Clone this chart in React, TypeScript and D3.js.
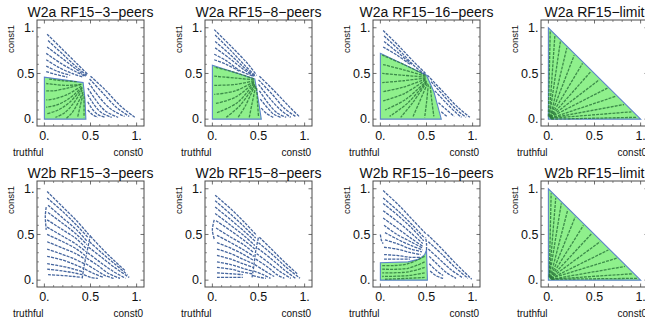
import React from "react";
import * as d3 from "d3";

type Pt = [number, number];

const titles = [
  "W2a RF15−3−peers",
  "W2a RF15−8−peers",
  "W2a RF15−16−peers",
  "W2a RF15−limit",
  "W2b RF15−3−peers",
  "W2b RF15−8−peers",
  "W2b RF15−16−peers",
  "W2b RF15−limit",
];

const tickValues = [0, 0.5, 1];
const tickLabels = ["0.", "0.5", "1."];
const minorTickValues = [0.1, 0.2, 0.3, 0.4, 0.6, 0.7, 0.8, 0.9];
const xAxisLeftLabel = "truthful";
const xAxisRightLabel = "const0";
const yAxisLabel = "const1";

// ---- W2a 3 peers ----
const w2a3Region: Pt[] = [[0, 0], [0, 0.46], [0.42, 0.4], [0.44, 0.22], [0.45, 0]];
const w2a3Outer: Pt[][] = [
  [[0.03, 0.93], [0.2, 0.76], [0.36, 0.6], [0.47, 0.49]],
  [[0.04, 0.86], [0.2, 0.71], [0.35, 0.57], [0.46, 0.48]],
  [[0.03, 0.79], [0.2, 0.66], [0.34, 0.55], [0.45, 0.47]],
  [[0.02, 0.72], [0.18, 0.61], [0.32, 0.53], [0.44, 0.47]],
  [[0.02, 0.65], [0.15, 0.57], [0.3, 0.5], [0.42, 0.46]],
  [[0.02, 0.58], [0.15, 0.52], [0.28, 0.48]],
  [[0.02, 0.52], [0.12, 0.49], [0.25, 0.46]],
  [[0.5, 0.47], [0.65, 0.33], [0.82, 0.15], [0.98, 0.02]],
  [[0.49, 0.44], [0.62, 0.3], [0.78, 0.13], [0.92, 0.03]],
  [[0.48, 0.4], [0.58, 0.26], [0.72, 0.11], [0.87, 0.03]],
  [[0.47, 0.34], [0.55, 0.22], [0.66, 0.09], [0.8, 0.02]],
  [[0.47, 0.27], [0.53, 0.17], [0.62, 0.07], [0.73, 0.02]],
  [[0.47, 0.19], [0.52, 0.11], [0.58, 0.05], [0.66, 0.02]],
  [[0.47, 0.1], [0.52, 0.05], [0.58, 0.02]],
];
const w2a3Inner: Pt[][] = [
  [[0.35, 0.41], [0.2, 0.42], [0.04, 0.44]],
  [[0.4, 0.38], [0.25, 0.37], [0.1, 0.38], [0.02, 0.39]],
  [[0.4, 0.38], [0.25, 0.34], [0.1, 0.31], [0.02, 0.31]],
  [[0.4, 0.36], [0.25, 0.27], [0.1, 0.22], [0.02, 0.21]],
  [[0.41, 0.35], [0.26, 0.22], [0.12, 0.15], [0.02, 0.13]],
  [[0.41, 0.34], [0.28, 0.19], [0.15, 0.1], [0.03, 0.06]],
  [[0.41, 0.32], [0.32, 0.18], [0.22, 0.07], [0.12, 0.02]],
  [[0.42, 0.3], [0.36, 0.17], [0.3, 0.07], [0.24, 0.01]],
  [[0.42, 0.28], [0.39, 0.15], [0.36, 0.02]],
  [[0.43, 0.25], [0.43, 0.12], [0.43, 0.02]],
];

// ---- W2a 8 peers ----
const w2a8Region: Pt[] = [[0, 0], [0, 0.59], [0.46, 0.44], [0.5, 0.2], [0.53, 0]];
const w2a8Outer: Pt[][] = [
  [[0.02, 0.98], [0.2, 0.8], [0.38, 0.61], [0.48, 0.48]],
  [[0.03, 0.92], [0.2, 0.75], [0.36, 0.58], [0.47, 0.47]],
  [[0.03, 0.85], [0.2, 0.7], [0.35, 0.56], [0.46, 0.47]],
  [[0.03, 0.78], [0.18, 0.67], [0.33, 0.55], [0.45, 0.47]],
  [[0.02, 0.71], [0.15, 0.64], [0.3, 0.53], [0.44, 0.47]],
  [[0.02, 0.65], [0.15, 0.6], [0.3, 0.52]],
  [[0.51, 0.47], [0.68, 0.3], [0.83, 0.14], [0.95, 0.02]],
  [[0.5, 0.43], [0.65, 0.27], [0.78, 0.12], [0.9, 0.03]],
  [[0.5, 0.38], [0.62, 0.23], [0.74, 0.1], [0.85, 0.02]],
  [[0.51, 0.31], [0.6, 0.18], [0.7, 0.07], [0.8, 0.02]],
  [[0.52, 0.22], [0.6, 0.12], [0.67, 0.05], [0.74, 0.02]],
  [[0.53, 0.12], [0.59, 0.06], [0.66, 0.02]],
];
const w2a8Inner: Pt[][] = [
  [[0.45, 0.44], [0.25, 0.51], [0.02, 0.57]],
  [[0.45, 0.43], [0.25, 0.45], [0.02, 0.47]],
  [[0.45, 0.42], [0.25, 0.38], [0.02, 0.37]],
  [[0.45, 0.41], [0.25, 0.31], [0.02, 0.27]],
  [[0.45, 0.4], [0.25, 0.24], [0.03, 0.17]],
  [[0.45, 0.39], [0.27, 0.18], [0.05, 0.07]],
  [[0.46, 0.38], [0.3, 0.15], [0.15, 0.02]],
  [[0.46, 0.37], [0.36, 0.15], [0.28, 0.02]],
  [[0.47, 0.36], [0.43, 0.17], [0.4, 0.02]],
  [[0.48, 0.34], [0.49, 0.17], [0.5, 0.03]],
];

// ---- W2a 16 peers ----
const w2a16Region: Pt[] = [[0, 0], [0, 0.72], [0.5, 0.48], [0.58, 0.3], [0.62, 0.15], [0.66, 0]];
const w2a16Outer: Pt[][] = [
  [[0.03, 0.97], [0.2, 0.8], [0.36, 0.63], [0.49, 0.5]],
  [[0.04, 0.91], [0.2, 0.76], [0.35, 0.6], [0.48, 0.49]],
  [[0.04, 0.85], [0.2, 0.72], [0.34, 0.6]],
  [[0.03, 0.79], [0.18, 0.7], [0.32, 0.6]],
  [[0.51, 0.48], [0.68, 0.3], [0.84, 0.13], [0.97, 0.02]],
  [[0.55, 0.41], [0.7, 0.24], [0.83, 0.1], [0.93, 0.02]],
  [[0.59, 0.31], [0.72, 0.17], [0.82, 0.07], [0.88, 0.02]],
  [[0.63, 0.18], [0.72, 0.1], [0.8, 0.03]],
  [[0.66, 0.08], [0.72, 0.03]],
];
const w2a16Inner: Pt[][] = [
  [[0.49, 0.48], [0.25, 0.6], [0.02, 0.7]],
  [[0.49, 0.47], [0.25, 0.54], [0.02, 0.6]],
  [[0.49, 0.46], [0.25, 0.48], [0.02, 0.5]],
  [[0.49, 0.45], [0.25, 0.42], [0.02, 0.4]],
  [[0.49, 0.44], [0.25, 0.35], [0.02, 0.3]],
  [[0.49, 0.43], [0.26, 0.28], [0.03, 0.2]],
  [[0.5, 0.42], [0.28, 0.22], [0.05, 0.1]],
  [[0.5, 0.41], [0.3, 0.18], [0.1, 0.03]],
  [[0.5, 0.4], [0.35, 0.18], [0.22, 0.02]],
  [[0.51, 0.39], [0.42, 0.18], [0.35, 0.02]],
  [[0.52, 0.38], [0.5, 0.18], [0.48, 0.02]],
  [[0.54, 0.36], [0.56, 0.18], [0.58, 0.03]],
];

// ---- W2a limit ----
const w2aLimitRegion: Pt[] = [[0, 0], [0, 1], [1, 0]];
const w2aLimitInner: Pt[][] = [
  [[0.0, 0.03], [0.02, 0.96]],
  [[0.01, 0.03], [0.07, 0.91]],
  [[0.01, 0.02], [0.13, 0.85]],
  [[0.02, 0.02], [0.2, 0.78]],
  [[0.02, 0.02], [0.28, 0.7]],
  [[0.02, 0.02], [0.37, 0.61]],
  [[0.02, 0.02], [0.46, 0.52]],
  [[0.02, 0.02], [0.55, 0.43]],
  [[0.02, 0.02], [0.64, 0.34]],
  [[0.02, 0.01], [0.73, 0.25]],
  [[0.02, 0.01], [0.82, 0.16]],
  [[0.03, 0.01], [0.9, 0.08]],
  [[0.03, 0.0], [0.96, 0.02]],
];

// ---- W2b 3 peers ----
const w2b3Region: Pt[] = [];
const w2b3Outer: Pt[][] = [
  [[0.41, 0.02], [0.43, 0.15], [0.46, 0.3], [0.5, 0.5]],
  [[0.02, 0.8], [0.01, 0.7], [0.02, 0.55]],
  [[0.03, 0.97], [0.2, 0.8], [0.35, 0.65], [0.48, 0.5]],
  [[0.03, 0.9], [0.2, 0.75], [0.35, 0.6], [0.47, 0.47]],
  [[0.04, 0.82], [0.2, 0.68], [0.35, 0.55], [0.46, 0.43]],
  [[0.04, 0.74], [0.2, 0.62], [0.35, 0.5], [0.46, 0.39]],
  [[0.03, 0.66], [0.2, 0.55], [0.35, 0.45], [0.45, 0.35]],
  [[0.03, 0.58], [0.2, 0.48], [0.35, 0.39], [0.45, 0.31]],
  [[0.03, 0.5], [0.2, 0.42], [0.35, 0.34], [0.44, 0.27]],
  [[0.03, 0.42], [0.2, 0.35], [0.34, 0.29], [0.44, 0.23]],
  [[0.03, 0.34], [0.2, 0.28], [0.33, 0.23], [0.43, 0.18]],
  [[0.03, 0.26], [0.2, 0.22], [0.33, 0.17], [0.42, 0.13]],
  [[0.03, 0.18], [0.2, 0.15], [0.32, 0.12], [0.42, 0.09]],
  [[0.03, 0.12], [0.2, 0.1], [0.32, 0.08], [0.41, 0.06]],
  [[0.04, 0.06], [0.2, 0.05], [0.32, 0.04], [0.4, 0.03]],
  [[0.5, 0.48], [0.62, 0.35], [0.75, 0.22], [0.88, 0.1]],
  [[0.49, 0.42], [0.62, 0.3], [0.76, 0.18], [0.9, 0.06]],
  [[0.48, 0.36], [0.62, 0.25], [0.76, 0.14], [0.92, 0.03]],
  [[0.47, 0.3], [0.6, 0.2], [0.74, 0.1], [0.88, 0.02]],
  [[0.46, 0.24], [0.58, 0.16], [0.7, 0.07], [0.82, 0.02]],
  [[0.45, 0.18], [0.56, 0.11], [0.66, 0.05], [0.75, 0.02]],
  [[0.44, 0.12], [0.54, 0.07], [0.64, 0.03]],
  [[0.43, 0.06], [0.5, 0.03], [0.58, 0.02]],
];
const w2b3Inner: Pt[][] = [];

// ---- W2b 8 peers ----
const w2b8Region: Pt[] = [];
const w2b8Outer: Pt[][] = [
  [[0.43, 0.03], [0.45, 0.16], [0.47, 0.32], [0.5, 0.47]],
  [[0.02, 0.66], [0.0, 0.55], [0.02, 0.45]],
  [[0.03, 0.93], [0.2, 0.78], [0.35, 0.63], [0.48, 0.49]],
  [[0.03, 0.87], [0.2, 0.72], [0.35, 0.58], [0.47, 0.46]],
  [[0.03, 0.8], [0.2, 0.66], [0.35, 0.53], [0.47, 0.42]],
  [[0.03, 0.73], [0.2, 0.6], [0.35, 0.48], [0.46, 0.38]],
  [[0.04, 0.65], [0.2, 0.54], [0.35, 0.43], [0.46, 0.34]],
  [[0.04, 0.57], [0.2, 0.47], [0.35, 0.38], [0.45, 0.3]],
  [[0.05, 0.49], [0.2, 0.41], [0.34, 0.33], [0.45, 0.26]],
  [[0.05, 0.41], [0.2, 0.35], [0.34, 0.28], [0.44, 0.22]],
  [[0.05, 0.34], [0.2, 0.29], [0.33, 0.23], [0.44, 0.18]],
  [[0.05, 0.27], [0.2, 0.23], [0.33, 0.18], [0.44, 0.14]],
  [[0.05, 0.2], [0.2, 0.17], [0.33, 0.13], [0.43, 0.1]],
  [[0.05, 0.14], [0.2, 0.12], [0.32, 0.09], [0.43, 0.07]],
  [[0.05, 0.08], [0.2, 0.07], [0.33, 0.06]],
  [[0.05, 0.03], [0.2, 0.03], [0.33, 0.03]],
  [[0.51, 0.47], [0.64, 0.34], [0.78, 0.2], [0.92, 0.07]],
  [[0.5, 0.41], [0.64, 0.29], [0.79, 0.15], [0.95, 0.02]],
  [[0.49, 0.35], [0.63, 0.24], [0.77, 0.12], [0.9, 0.02]],
  [[0.48, 0.29], [0.61, 0.19], [0.74, 0.09], [0.85, 0.02]],
  [[0.47, 0.23], [0.59, 0.15], [0.7, 0.06], [0.78, 0.02]],
  [[0.46, 0.17], [0.57, 0.1], [0.67, 0.04]],
  [[0.45, 0.1], [0.55, 0.06], [0.63, 0.02]],
  [[0.44, 0.05], [0.52, 0.03], [0.58, 0.02]],
];
const w2b8Inner: Pt[][] = [];

// ---- W2b 16 peers ----
const w2b16Region: Pt[] = [[0, 0], [0, 0.19], [0.3, 0.2], [0.42, 0.23], [0.48, 0.28], [0.5, 0.33], [0.51, 0]];
const w2b16Outer: Pt[][] = [
  [[0.5, 0.33], [0.5, 0.4], [0.49, 0.47]],
  [[0.0, 0.5], [0.01, 0.44], [0.03, 0.4]],
  [[0.03, 0.98], [0.2, 0.82], [0.35, 0.66], [0.5, 0.5]],
  [[0.03, 0.9], [0.2, 0.75], [0.35, 0.6], [0.48, 0.46]],
  [[0.03, 0.84], [0.2, 0.7], [0.35, 0.56], [0.47, 0.43]],
  [[0.03, 0.76], [0.2, 0.63], [0.35, 0.5], [0.46, 0.4]],
  [[0.03, 0.68], [0.18, 0.57], [0.33, 0.46], [0.46, 0.37]],
  [[0.04, 0.6], [0.18, 0.5], [0.33, 0.42], [0.46, 0.35]],
  [[0.05, 0.52], [0.18, 0.45], [0.33, 0.38], [0.46, 0.33]],
  [[0.05, 0.44], [0.18, 0.4], [0.33, 0.34], [0.45, 0.31]],
  [[0.04, 0.36], [0.18, 0.34], [0.33, 0.3], [0.44, 0.28]],
  [[0.04, 0.28], [0.18, 0.27], [0.33, 0.25], [0.43, 0.25]],
  [[0.04, 0.23], [0.2, 0.23], [0.32, 0.23]],
  [[0.51, 0.5], [0.65, 0.36], [0.8, 0.2], [0.99, 0.01]],
  [[0.52, 0.42], [0.66, 0.29], [0.8, 0.15], [0.95, 0.02]],
  [[0.52, 0.34], [0.64, 0.23], [0.76, 0.12], [0.9, 0.02]],
  [[0.53, 0.26], [0.62, 0.17], [0.72, 0.08], [0.82, 0.02]],
  [[0.53, 0.18], [0.6, 0.11], [0.68, 0.05]],
  [[0.54, 0.1], [0.6, 0.05], [0.68, 0.02]],
];
const w2b16Inner: Pt[][] = [
  [[0.48, 0.26], [0.3, 0.18], [0.15, 0.16], [0.02, 0.16]],
  [[0.48, 0.2], [0.3, 0.13], [0.02, 0.12]],
  [[0.48, 0.14], [0.3, 0.09], [0.02, 0.08]],
  [[0.48, 0.08], [0.3, 0.05], [0.02, 0.04]],
  [[0.48, 0.03], [0.3, 0.02], [0.05, 0.01]],
];

// ---- W2b limit ----
const w2bLimitRegion: Pt[] = [[0, 0], [0, 1], [1, 0]];
const w2bLimitInner: Pt[][] = [
  [[0.01, 0.04], [0.03, 0.95]],
  [[0.01, 0.03], [0.08, 0.9]],
  [[0.01, 0.03], [0.14, 0.84]],
  [[0.02, 0.03], [0.21, 0.77]],
  [[0.02, 0.02], [0.29, 0.69]],
  [[0.02, 0.02], [0.38, 0.6]],
  [[0.02, 0.02], [0.47, 0.51]],
  [[0.02, 0.02], [0.56, 0.42]],
  [[0.03, 0.02], [0.65, 0.33]],
  [[0.03, 0.02], [0.74, 0.24]],
  [[0.03, 0.01], [0.83, 0.15]],
  [[0.03, 0.01], [0.91, 0.07]],
  [[0.04, 0.01], [0.96, 0.02]],
];

const regions = [w2a3Region, w2a8Region, w2a16Region, w2aLimitRegion, w2b3Region, w2b8Region, w2b16Region, w2bLimitRegion];
const outerFlows = [w2a3Outer, w2a8Outer, w2a16Outer, [], w2b3Outer, w2b8Outer, w2b16Outer, []];
const innerFlows = [w2a3Inner, w2a8Inner, w2a16Inner, w2aLimitInner, w2b3Inner, w2b8Inner, w2b16Inner, w2bLimitInner];

const FONT = "'Liberation Sans', Arial, Helvetica, sans-serif";
const FRAME_W = 107;
const FRAME_H = 106;

function Panel({ idx }: { idx: number }) {
  const col = idx % 4;
  const row = Math.floor(idx / 4);
  const ox = 37 + 168 * col;
  const oy = 20 + 161 * row;
  const x = d3.scaleLinear().domain([-0.08, 1.08]).range([ox, ox + FRAME_W]);
  const y = d3.scaleLinear().domain([-0.075, 1.085]).range([oy + FRAME_H, oy]);
  const line = d3
    .line<Pt>()
    .x((d) => x(d[0]))
    .y((d) => y(d[1]))
    .curve(d3.curveCatmullRom.alpha(0.5));
  const region = regions[idx];
  const poly = region.length ? region.map((p) => `${x(p[0])},${y(p[1])}`).join(" ") : "";
  const frameColor = "#4a4a4a";
  return (
    <g>
      {poly && (
        <polygon points={poly} fill="#8ff08c" stroke="#5c84c8" strokeWidth={1.1} />
      )}
      {innerFlows[idx].map((s, i) => (
        <path
          key={"i" + i}
          d={line(s) || ""}
          fill="none"
          stroke="#2e7a3e"
          strokeWidth={1.3}
          strokeDasharray="3 1.1"
          opacity={0.85}
        />
      ))}
      {outerFlows[idx].map((s, i) => (
        <path
          key={"o" + i}
          d={line(s) || ""}
          fill="none"
          stroke="#46669f"
          strokeWidth={1.3}
          strokeDasharray="3 1.1"
        />
      ))}
      <rect x={ox} y={oy} width={FRAME_W} height={FRAME_H} fill="none" stroke={frameColor} strokeWidth={1} />
      {tickValues.map((v) => (
        <g key={"t" + v}>
          <line x1={x(v)} x2={x(v)} y1={oy + FRAME_H} y2={oy + FRAME_H - 3.5} stroke={frameColor} strokeWidth={0.8} />
          <line x1={x(v)} x2={x(v)} y1={oy} y2={oy + 3.5} stroke={frameColor} strokeWidth={0.8} />
          <line x1={ox} x2={ox + 3.5} y1={y(v)} y2={y(v)} stroke={frameColor} strokeWidth={0.8} />
          <line x1={ox + FRAME_W} x2={ox + FRAME_W - 3.5} y1={y(v)} y2={y(v)} stroke={frameColor} strokeWidth={0.8} />
        </g>
      ))}
      {minorTickValues.map((v) => (
        <g key={"m" + v}>
          <line x1={x(v)} x2={x(v)} y1={oy + FRAME_H} y2={oy + FRAME_H - 2} stroke={frameColor} strokeWidth={0.6} />
          <line x1={x(v)} x2={x(v)} y1={oy} y2={oy + 2} stroke={frameColor} strokeWidth={0.6} />
          <line x1={ox} x2={ox + 2} y1={y(v)} y2={y(v)} stroke={frameColor} strokeWidth={0.6} />
          <line x1={ox + FRAME_W} x2={ox + FRAME_W - 2} y1={y(v)} y2={y(v)} stroke={frameColor} strokeWidth={0.6} />
        </g>
      ))}
      {tickValues.map((v, i) => (
        <text key={"xl" + v} x={x(v)} y={oy + 119.5} fontSize={12.5} textAnchor="middle" fill="#111" fontFamily={FONT}>
          {tickLabels[i]}
        </text>
      ))}
      {tickValues.map((v, i) => (
        <text key={"yl" + v} x={ox - 2.5} y={y(v) + 4.3} fontSize={12.5} textAnchor="end" fill="#111" fontFamily={FONT}>
          {tickLabels[i]}
        </text>
      ))}
      <text x={ox + FRAME_W / 2} y={oy - 2.7} fontSize={14} textAnchor="middle" fill="#111" fontFamily={FONT}>
        {titles[idx]}
      </text>
      <text
        transform={`translate(${ox - 23.5},${oy + 19}) rotate(-90)`}
        fontSize={9.5}
        textAnchor="middle"
        fill="#111"
        fontFamily={FONT}
      >
        {yAxisLabel}
      </text>
      <text x={ox - 24} y={oy + 136} fontSize={10} fill="#111" fontFamily={FONT}>
        {xAxisLeftLabel}
      </text>
      <text x={ox + 106} y={oy + 136} fontSize={10} textAnchor="end" fill="#111" fontFamily={FONT}>
        {xAxisRightLabel}
      </text>
    </g>
  );
}

export default function App() {
  return (
    <svg
      width={645}
      height={324}
      style={{ position: "absolute", left: 0, top: 0, background: "#fff" }}
    >
      {titles.map((_, i) => (
        <Panel key={i} idx={i} />
      ))}
    </svg>
  );
}
